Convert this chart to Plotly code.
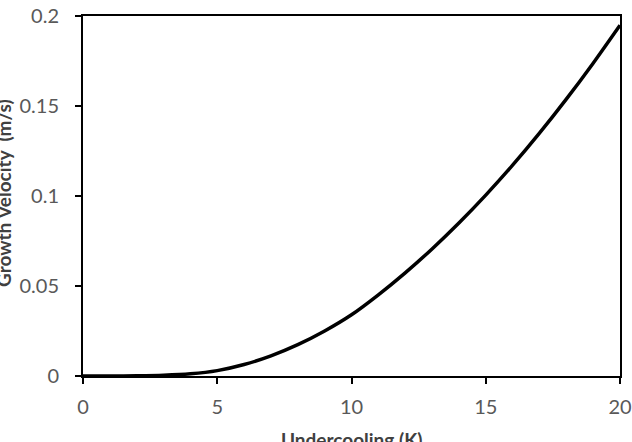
import plotly.graph_objects as go

undercooling = [0, 1, 2, 3, 4, 5, 6, 7, 8, 9, 10, 11, 12, 13, 14, 15, 16, 17, 18, 19, 20]
velocity = [0.0, 0.0, 0.0001, 0.0004, 0.0012, 0.003, 0.0064, 0.0112, 0.0174, 0.025,
            0.034, 0.0451, 0.0573, 0.0706, 0.085, 0.1005, 0.1171, 0.1349, 0.1538, 0.1738, 0.1949]
x_ticks = [0, 5, 10, 15, 20]
y_ticks = [0, 0.05, 0.1, 0.15, 0.2]
y_tick_text = ["0", "0.05", "0.1", "0.15", "0.2"]

FONT = "Lato"
W, H = 632, 442
ML, MR, MT, MB = 83, 12, 16, 66
pw = W - ML - MR
ph = H - MT - MB

fig = go.Figure()
fig.add_trace(go.Scatter(x=undercooling, y=velocity, mode="lines",
                         line=dict(color="black", width=3.5, shape="spline", smoothing=0.6),
                         showlegend=False, hoverinfo="skip"))

axis_common = dict(showgrid=False, zeroline=False, showline=True, linecolor="black",
                   linewidth=2, mirror=True, ticks="outside", ticklen=6, tickwidth=1.5,
                   tickcolor="black", automargin=False,
                   tickfont=dict(family=FONT, size=20, color="#595959"))

fig.update_xaxes(range=[0, 20], tickvals=x_ticks, ticktext=[str(v) for v in x_ticks],
                 ticklabelstandoff=6, **axis_common)
fig.update_yaxes(range=[0, 0.2], tickvals=y_ticks, ticktext=y_tick_text,
                 ticklabelstandoff=12, **axis_common)

fig.add_annotation(text="<b>Growth Velocity  (m/s)</b>", textangle=-90,
                   xref="paper", yref="paper", x=(3 - ML) / pw, y=(MT + ph - 193) / ph,
                   xanchor="center", yanchor="middle", showarrow=False,
                   font=dict(family=FONT, size=19, color="#404040"))
fig.add_annotation(text="<b>Undercooling (K)</b>",
                   xref="paper", yref="paper", x=(351 - ML) / pw, y=(MT + ph - 439) / ph,
                   xanchor="center", yanchor="middle", showarrow=False,
                   font=dict(family=FONT, size=19, color="#404040"))

fig.update_layout(width=W, height=H, margin=dict(l=ML, r=MR, t=MT, b=MB, pad=0, autoexpand=False),
                  paper_bgcolor="white", plot_bgcolor="white")

fig.write_html("out.html")
